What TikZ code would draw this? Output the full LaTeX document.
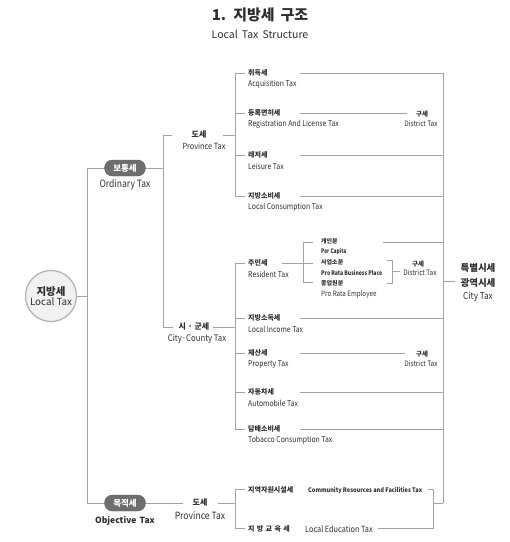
\documentclass[tikz,border=0pt]{standalone}
\usepackage{fontspec}
\usepackage{graphicx}
\setmainfont{Noto Sans CJK KR}
\newfontfamily\enfont[FakeStretch=0.86]{Noto Sans CJK KR}
\usetikzlibrary{shapes.misc}
\definecolor{linegray}{HTML}{A3A3A3}
\definecolor{txt}{HTML}{2E2E2E}
\definecolor{pillgray}{HTML}{6E6E6E}
\definecolor{circfill}{HTML}{F1F1F1}
\definecolor{circline}{HTML}{B5B5B5}
\tikzset{
  ln/.style={draw=linegray, line width=0.8pt},
  ko/.style={font=\bfseries\fontsize{7}{8}\selectfont, text=txt, inner sep=0pt, anchor=west},
  kosub/.style={font=\bfseries\fontsize{6}{7}\selectfont, text=txt, inner sep=0pt, anchor=west},
  en/.style={font=\enfont\fontsize{8}{9}\selectfont, text=txt, inner sep=0pt, anchor=west},
  kobig/.style={font=\bfseries\fontsize{8}{9}\selectfont, text=txt, inner sep=0pt},
  enbig/.style={font=\enfont\fontsize{8.5}{10}\selectfont, text=txt, inner sep=0pt},
  pill/.style={rounded rectangle, fill=pillgray, draw=pillgray!80!black, line width=0.4pt, minimum width=41pt, minimum height=16pt, inner sep=0pt, text=white, font=\bfseries\fontsize{8.5}{9}\selectfont},
  gu/.style={font=\bfseries\fontsize{6.5}{7}\selectfont, text=txt, inner sep=0pt},
  guen/.style={font=\enfont\fontsize{7.5}{8}\selectfont, text=txt, inner sep=0pt},
}
\begin{document}
\begin{tikzpicture}[x=1pt,y=-1pt]
\useasboundingbox (0,0) rectangle (510,542);
% titles
\node[font=\bfseries\fontsize{15}{17}\selectfont, text=txt, inner sep=0pt] (title) at (260,15) {1.\, 지방세\, 구조};
\node[font=\fontsize{10.5}{12}\selectfont, text=txt, inner sep=0pt] (subtitle) at (260,34) {Local\, Tax\, Structure};

% root
\node[circle, minimum size=51pt, fill=circfill, draw=circline, line width=1.3pt, inner sep=0pt, align=center, text=txt] (local) at (51,296)
  {{\bfseries\fontsize{10.5}{12}\selectfont 지방세}\\[-2pt]{\fontsize{9.8}{12}\selectfont Local Tax}};
\coordinate (trunkmid) at (87,296);
\coordinate (trunktop) at (87,168);
\coordinate (trunkbot) at (87,503);
\draw[ln] (local.east) -- (trunkmid);
\draw[ln] (trunktop) -- (trunkbot);

% ordinary
\node[pill] (ord) at (125,168) {보통세};
\node[font=\enfont\fontsize{10}{11}\selectfont, text=txt, inner sep=0pt] (orden) at (125,185) {Ordinary Tax};
\draw[ln] (trunktop) -- (ord.west);
\coordinate (ordj) at (163,168);
\draw[ln] (ord.east) -- (ordj);
\coordinate (ovtop) at (163,135);
\coordinate (ovbot) at (163,327);
\draw[ln] (ovtop) -- (ovbot);

% province tax (ordinary)
\node[kobig] (prov) at (199,134) {도세};
\node[enbig] (proven) at (204,146) {Province Tax};
\coordinate (pvl) at (172,135);
\coordinate (pvr) at (223,135);
\coordinate (pvj) at (235,135);
\draw[ln] (ovtop) -- (pvl);
\draw[ln] (pvr) -- (pvj);
\coordinate (pvtop) at (235,73);
\coordinate (pvbot) at (235,196);
\draw[ln] (pvtop) -- (pvbot);

% right spine
\coordinate (rtop) at (443,73);
\coordinate (rbot) at (443,503);
\draw[ln] (rtop) -- (rbot);

% items province
\node[ko] (acq) at (248,73) {취득세};
\node[en] (acqen) at (248,84) {Acquisition Tax};
\draw[ln] (pvtop) -- ++(10,0);
\draw[ln] (300,73) -- (rtop);

\node[ko] (reg) at (248,113) {등록면허세};
\node[en] (regen) at (248,124) {Registration And License Tax};
\draw[ln] (235,113) -- ++(10,0);
\node[gu] (gu1) at (422,114) {구세};
\node[guen] (gu1en) at (421,124) {District Tax};
\draw[ln] (300,113) -- (407,113);

\node[ko] (lei) at (248,155) {레저세};
\node[en] (leien) at (248,166) {Leisure Tax};
\draw[ln] (235,155) -- ++(10,0);
\draw[ln] (300,155) -- (443,155);

\node[ko] (lc) at (248,196) {지방소비세};
\node[en] (lcen) at (248,207) {Local Consumption Tax};
\draw[ln] (pvbot) -- ++(10,0);
\draw[ln] (300,196) -- (443,196);

% city county
\node[kobig] (cc) at (194,327) {시 · 군세};
\node[font=\enfont\fontsize{9}{10}\selectfont, text=txt, inner sep=0pt] (ccen) at (197,339) {City·County Tax};
\coordinate (ccl) at (173,327);
\coordinate (ccr) at (213,327);
\coordinate (ccj) at (235,327);
\draw[ln] (ovbot) -- (ccl);
\draw[ln] (ccr) -- (ccj);
\coordinate (cvtop) at (235,263);
\coordinate (cvbot) at (235,429);
\draw[ln] (cvtop) -- (cvbot);

\node[ko] (res) at (248,263) {주민세};
\node[en] (resen) at (248,274) {Resident Tax};
\draw[ln] (cvtop) -- ++(10,0);
\draw[ln] (282,263) -- (303,263);
\draw[ln] (313,242) -- (303,242) -- (303,282) -- (313,282);
\draw[ln] (303,263) -- (313,263);

\node[kosub] (pc) at (321,241) {개인분};
\node[en] (pcen) at (321,252) {\resizebox{25pt}{5.2pt}{\bfseries Per Capita}};
\draw[ln] (383,242) -- (443,242);
\node[kosub] (biz) at (321,262) {사업소분};
\node[en] (bizen) at (321,273) {\resizebox{61pt}{5.2pt}{\bfseries Pro Rata Business Place}};
\node[kosub] (emp) at (321,283) {종업원분};
\node[en, font=\enfont\fontsize{7.3}{8}\selectfont] (empen) at (321,294) {Pro Rata Employee};
\draw[ln] (387,260) -- (392,260) -- (392,283) -- (387,283);
\draw[ln] (392,271) -- (400,271);
\node[gu] (gu2) at (418,264) {구세};
\node[guen] (gu2en) at (420,273) {District Tax};

\node[ko] (inc) at (248,318) {지방소득세};
\node[en] (incen) at (248,329) {Local Income Tax};
\draw[ln] (235,318) -- ++(10,0);
\draw[ln] (300,318) -- (443,318);

\node[ko] (prop) at (248,353) {재산세};
\node[en] (propen) at (248,364) {Property Tax};
\draw[ln] (235,353) -- ++(10,0);
\draw[ln] (300,353) -- (405,353);
\node[gu] (gu3) at (422,354) {구세};
\node[guen] (gu3en) at (421,364) {District Tax};

\node[ko] (auto) at (248,392) {자동차세};
\node[en] (autoen) at (248,403) {Automobile Tax};
\draw[ln] (235,392) -- ++(10,0);
\draw[ln] (300,392) -- (443,392);

\node[ko] (tob) at (248,429) {담배소비세};
\node[en] (toben) at (248,440) {Tobacco Consumption Tax};
\draw[ln] (cvbot) -- ++(10,0);
\draw[ln] (300,429) -- (443,429);

% city tax
\node[font=\bfseries\fontsize{9.5}{11}\selectfont, text=txt, inner sep=0pt] (sp) at (478,268) {특별시세};
\node[font=\bfseries\fontsize{9.5}{11}\selectfont, text=txt, inner sep=0pt] (met) at (478,283) {광역시세};
\node[font=\enfont\fontsize{9.5}{11}\selectfont, text=txt, inner sep=0pt] (cityen) at (478,297) {City Tax};
\draw[ln] (443,281) -- (455,281);

% objective
\node[pill] (obj) at (125,503) {목적세};
\node[font=\bfseries\fontsize{8.5}{9}\selectfont, text=txt, inner sep=0pt] (objen) at (125,521) {Objective\, Tax};
\draw[ln] (trunkbot) -- (obj.west);
\draw[ln] (obj.east) -- (183,503);
\node[kobig] (prov2) at (200,502) {도세};
\node[font=\enfont\fontsize{10}{11}\selectfont, text=txt, inner sep=0pt] (prov2en) at (200,516) {Province Tax};
\draw[ln] (218,503) -- (235,503);
\coordinate (ovt) at (235,489);
\coordinate (ovb) at (235,528);
\draw[ln] (ovt) -- (ovb);
\draw[ln] (ovt) -- ++(10,0);
\draw[ln] (ovb) -- ++(10,0);

\node[ko] (crf) at (248,490) {지역자원시설세};
\node[en] (crfen) at (308,491) {\resizebox{114pt}{5.2pt}{\bfseries Community Resources and Facilities Tax}};
\node[ko] (edu) at (248,529) {지\,\,방\,\,교\,\,육\,\,세};
\node[en, font=\enfont\fontsize{8.5}{9}\selectfont] (eduen) at (305,529) {Local Education Tax};
\draw[ln] (428,489) -- (433,489) -- (433,528) -- (378,528);
\draw[ln] (433,503) -- (rbot);
\end{tikzpicture}
\end{document}
